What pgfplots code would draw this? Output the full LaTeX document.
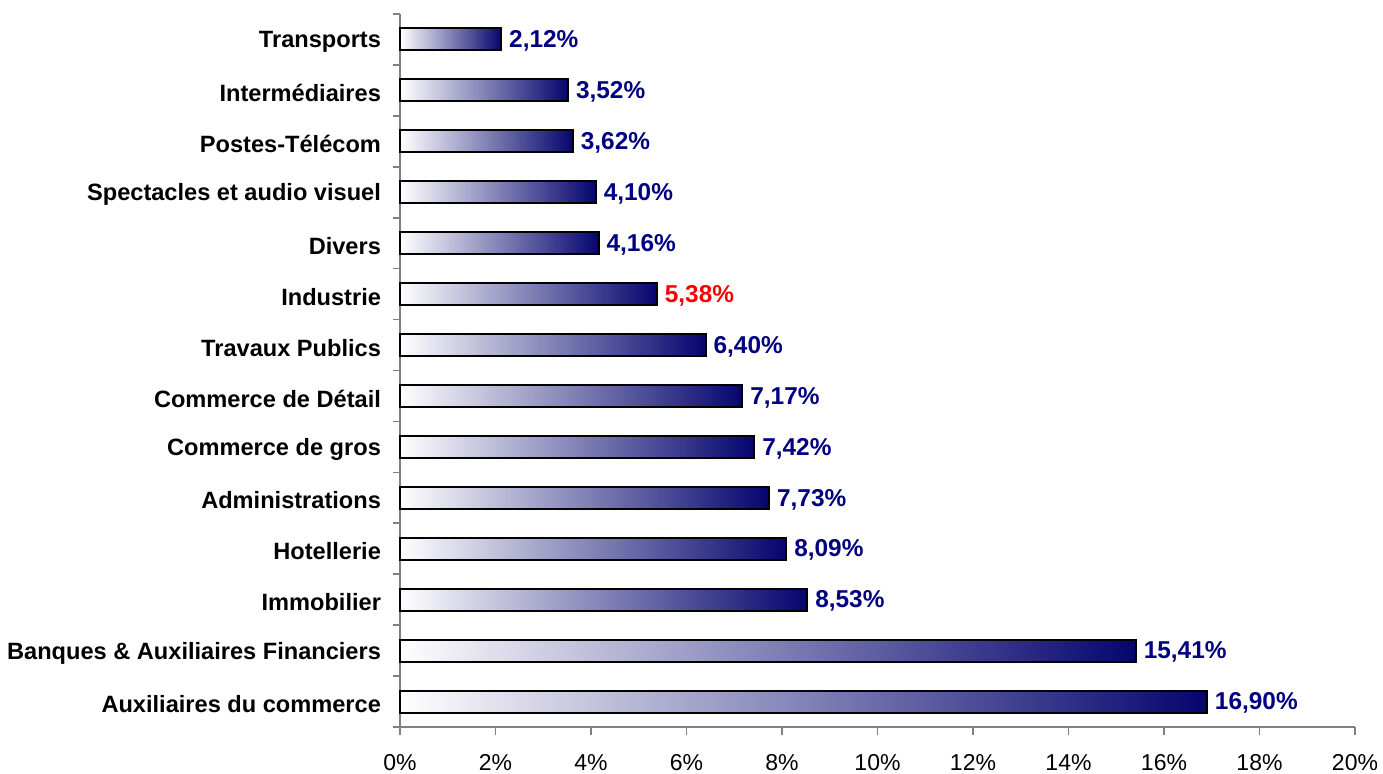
\documentclass[border=0pt]{standalone}
\usepackage{pgfplots}
\pgfplotsset{compat=1.18}
\usepackage{fontspec}
\setmainfont{Liberation Sans}
\definecolor{navytext}{RGB}{0,0,128}
\definecolor{bardark}{RGB}{5,5,110}
\definecolor{axisgray}{RGB}{128,128,128}

\pgfplotsset{
  shadedbar/.style={xbar, bar width=11pt, bar shift=0pt, draw=black, line width=1pt,
    left color=white, right color=bardark},
}

\begin{document}
\begin{tikzpicture}
\begin{axis}[
    at={(0,0)}, anchor=south west,
    scale only axis,
    width=477.5pt, height=356.5pt,
    xmin=0, xmax=20, ymin=-0.5, ymax=13.5,
    axis x line*=bottom, axis y line*=left,
    axis line style={draw=axisgray, line width=0.8pt, -},
    xtick={0,2,...,20},
    xticklabel={\pgfmathprintnumber{\tick}\%},
    x tick style={draw=axisgray, line width=0.8pt},
    tick align=outside, major tick length=4pt,
    xticklabel style={font=\fontsize{11.5}{13}\selectfont, yshift=-6pt},
    ytick={0,...,13},
    y tick style={draw=none},
    yticklabels={Auxiliaires du commerce, Banques \& Auxiliaires Financiers, Immobilier, Hotellerie, Administrations, Commerce de gros, Commerce de Détail, Travaux Publics, Industrie, Divers, Spectacles et audio visuel, Postes-Télécom, Intermédiaires, Transports},
    yticklabel style={font=\fontsize{11.8}{13}\selectfont\bfseries, xshift=-2pt, yshift=-1.3pt},
    extra y ticks={-0.5,0.5,...,13.5},
    extra y tick labels={},
    extra y tick style={y tick style={draw=axisgray, line width=0.8pt}, major tick length=3.5pt},
    /pgf/number format/assume math mode=true,
    clip=false,
    point meta=x,
    nodes near coords={\pgfmathprintnumber[fixed, fixed zerofill, precision=2, use comma]{\pgfplotspointmeta}\%},
    nodes near coords align={horizontal},
    every node near coord/.append style={font=\fontsize{12.2}{14}\selectfont\bfseries, text=navytext, anchor=west, inner sep=3.5pt, yshift=-0.8pt},
]
\addplot[shadedbar] coordinates {(16.90,0)};
\addplot[shadedbar] coordinates {(15.41,1)};
\addplot[shadedbar] coordinates {(8.53,2)};
\addplot[shadedbar] coordinates {(8.09,3)};
\addplot[shadedbar] coordinates {(7.73,4)};
\addplot[shadedbar] coordinates {(7.42,5)};
\addplot[shadedbar] coordinates {(7.17,6)};
\addplot[shadedbar] coordinates {(6.40,7)};
\addplot[shadedbar, every node near coord/.append style={text=red}] coordinates {(5.38,8)};
\addplot[shadedbar] coordinates {(4.16,9)};
\addplot[shadedbar] coordinates {(4.10,10)};
\addplot[shadedbar] coordinates {(3.62,11)};
\addplot[shadedbar] coordinates {(3.52,12)};
\addplot[shadedbar] coordinates {(2.12,13)};
\end{axis}
\pgfresetboundingbox
\path[use as bounding box] (-200pt,-23pt) rectangle (491.5pt,363.5pt);
\end{tikzpicture}
\end{document}
